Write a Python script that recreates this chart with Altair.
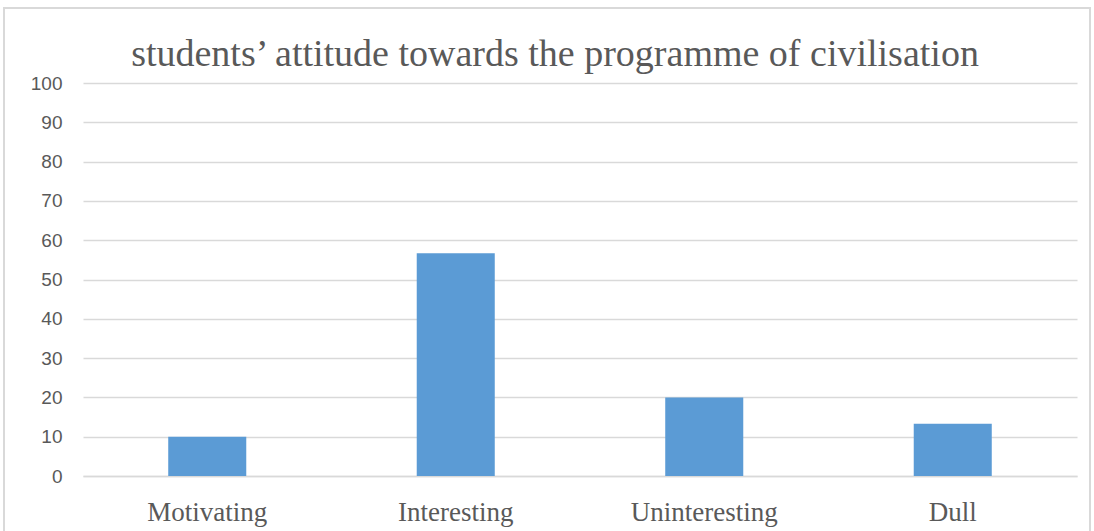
import altair as alt
import pandas as pd

categories = ["Motivating", "Interesting", "Uninteresting", "Dull"]
values = [10, 56.7, 20, 13.3]
y_ticks = [0, 10, 20, 30, 40, 50, 60, 70, 80, 90, 100]

df = pd.DataFrame({"category": categories, "value": values})

bars = alt.Chart(df).mark_bar(color="#5B9BD5").encode(
    x=alt.X("category:N", sort=categories,
            scale=alt.Scale(paddingInner=0.686, paddingOuter=0.343),
            axis=alt.Axis(title=None, labelAngle=0, labelFont="Liberation Serif",
                          labelFontSize=27, labelColor="#595959", labelPadding=23,
                          ticks=False, domainColor="#D9D9D9", domainWidth=1.5)),
    y=alt.Y("value:Q", scale=alt.Scale(domain=[0, 100], nice=False),
            axis=alt.Axis(title=None, values=y_ticks, labelFont="Liberation Sans",
                          labelFontSize=19, labelColor="#595959", labelPadding=21,
                          ticks=False, domain=False, gridColor="#D9D9D9", gridWidth=1.5)),
)

border = alt.Chart(df).mark_rect(fill=None, stroke="#D9D9D9", strokeWidth=1.5).encode(
    x=alt.value(-79), x2=alt.value(1007), y=alt.value(-75), y2=alt.value(470)
)

chart = alt.layer(border, bars).properties(
    width=994, height=393,
    padding={"left": 83, "top": 83, "right": 17, "bottom": 55},
    autosize=alt.AutoSizeParams(type="none"),
    title=alt.TitleParams("students\u2019 attitude towards the programme of civilisation",
                          font="Liberation Serif", fontSize=38, fontWeight="normal",
                          color="#595959", anchor="middle", dx=-25, dy=85, offset=18),
).configure_view(stroke=None)

chart.save("out.html", embed_options={"renderer": "svg", "actions": False})
